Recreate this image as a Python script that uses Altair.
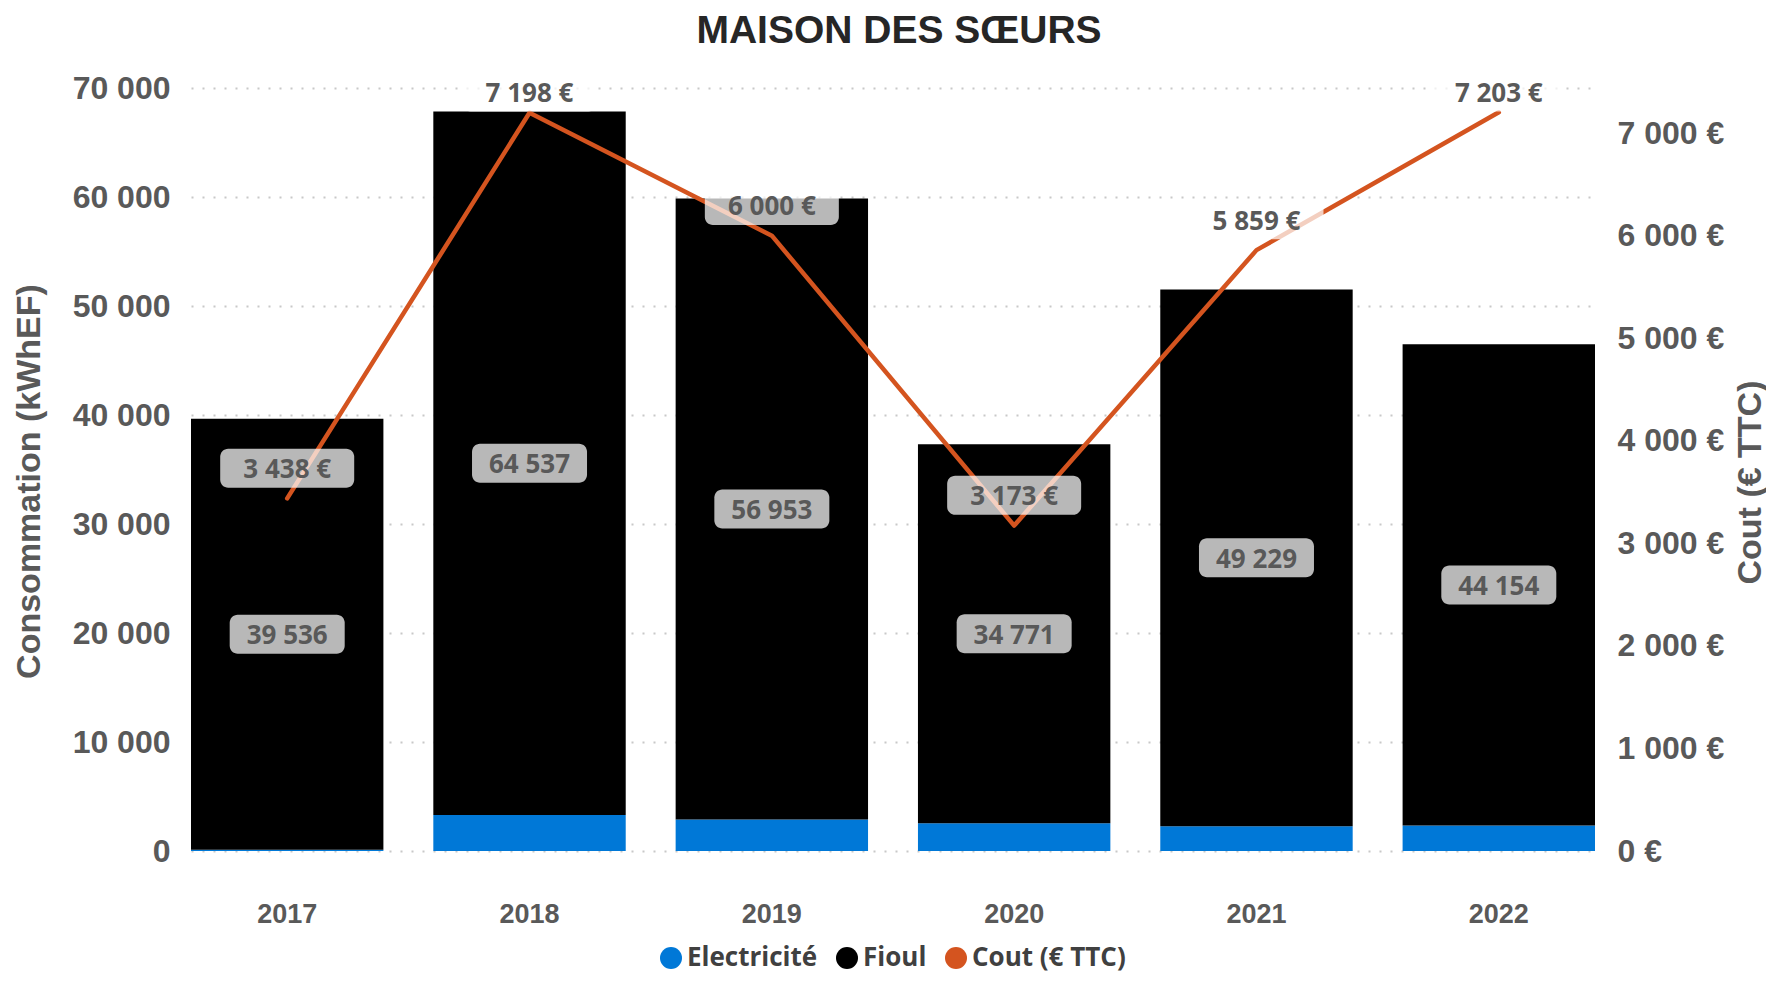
import altair as alt
import pandas as pd

# ---- data ----
years = ["2017", "2018", "2019", "2020", "2021", "2022"]
electricite = [120, 3300, 2900, 2550, 2280, 2330]
fioul = [39536, 64537, 56953, 34771, 49229, 44154]
cout = [3438, 7198, 6000, 3173, 5859, 7203]

series = ["Electricité", "Fioul", "Cout (€ TTC)"]
colors = ["#0078d7", "#000000", "#d4541f"]

left_ticks = [0, 10000, 20000, 30000, 40000, 50000, 60000, 70000]
right_ticks = [0, 1000, 2000, 3000, 4000, 5000, 6000, 7000]

wide = pd.DataFrame({"Année": years, "elec": electricite, "fioul": fioul, "cout": cout})
long = pd.DataFrame({
    "Année": years * 2,
    "Énergie": ["Electricité"] * len(years) + ["Fioul"] * len(years),
    "kWh": electricite + fioul,
    "ordre": [0] * len(years) + [1] * len(years),
})

LABEL_FONT = "Liberation Sans"
TXT_FONT = "Open Sans"
GREY = "#595959"

x_axis = alt.Axis(title=None, labelFont=LABEL_FONT, labelFontSize=27, labelFontWeight="bold",
                  labelColor=GREY, labelAngle=0, labelPadding=50,
                  ticks=False, domain=False, grid=False)
x_scale = alt.Scale(paddingInner=0.206, paddingOuter=0)
x_enc = alt.X("Année:N", sort=years, scale=x_scale, axis=x_axis)

y_left_scale = alt.Scale(domain=[0, 70000], nice=False, zero=True)
y_right_scale = alt.Scale(domain=[0, 7440], nice=False, zero=True)

left_axis = alt.Axis(values=left_ticks,
                     labelExpr="replace(format(datum.value, ','), ',', ' ')",
                     labelFont=LABEL_FONT, labelFontSize=32, labelFontWeight="bold", labelColor=GREY,
                     labelPadding=21, ticks=False, domain=False,
                     grid=True, gridColor="#c8c8c8", gridDash=[2, 9], gridWidth=2,
                     title="Consommation (kWhEF)", titleFont=LABEL_FONT, titleFontSize=34,
                     titleFontWeight="bold", titleColor=GREY, titleAngle=270,
                     titleX=-162, titleY=393, titleAlign="center", titleBaseline="middle")

right_axis = alt.Axis(orient="right", values=right_ticks,
                      labelExpr="replace(format(datum.value, ','), ',', ' ') + ' €'",
                      labelFont=LABEL_FONT, labelFontSize=32, labelFontWeight="bold", labelColor=GREY,
                      labelPadding=22, ticks=False, domain=False, grid=False,
                      title="Cout (€ TTC)", titleFont=LABEL_FONT, titleFontSize=34,
                      titleFontWeight="bold", titleColor=GREY, titleAngle=270,
                      titleX=155, titleY=394, titleAlign="center", titleBaseline="middle")

legend = alt.Legend(orient="none", legendX=467, legendY=857, direction="horizontal", columns=3,
                    title=None, symbolType="circle", symbolSize=484, symbolStrokeWidth=0,
                    symbolOpacity=1, labelFont=TXT_FONT, labelFontSize=26, labelFontWeight="bold",
                    labelColor="#404040", labelOffset=3, columnPadding=16, labelLimit=400)

bars = alt.Chart(long).mark_bar().encode(
    x=x_enc,
    y=alt.Y("kWh:Q", stack="zero", scale=y_left_scale, axis=left_axis),
    color=alt.Color("Énergie:N", scale=alt.Scale(domain=series, range=colors), legend=legend),
    order=alt.Order("ordre:Q"),
)

fbase = alt.Chart(wide).transform_calculate(
    mid="datum.elec + datum.fioul / 2",
    b0="datum.elec + datum.fioul / 2 - 1790",
    b1="datum.elec + datum.fioul / 2 + 1790",
    lab="replace(format(datum.fioul, ','), ',', ' ')",
)
fbox = fbase.mark_bar(width=115, cornerRadius=8, color="white", opacity=0.72).encode(
    x=x_enc, y=alt.Y("b0:Q", scale=y_left_scale, axis=None), y2="b1:Q")
ftext = fbase.mark_text(font=TXT_FONT, fontSize=26, fontWeight="bold", color=GREY,
                        baseline="middle", align="center", dy=2).encode(
    x=x_enc, y=alt.Y("mid:Q", scale=y_left_scale, axis=None), text="lab:N")

line = alt.Chart(wide).mark_line(color="#d4541f", strokeWidth=4.5, strokeCap="round",
                                 strokeJoin="round").encode(
    x=x_enc, y=alt.Y("cout:Q", scale=y_right_scale, axis=right_axis))

cbase = alt.Chart(wide).transform_calculate(
    ly="min(datum.cout + 295, 7400)",
).transform_calculate(
    b0="datum.ly - 190",
    b1="datum.ly + 190",
    lab="replace(format(datum.cout, ','), ',', ' ') + ' €'",
)
cbox = cbase.mark_bar(width=134, cornerRadius=8, color="white", opacity=0.72).encode(
    x=x_enc, y=alt.Y("b0:Q", scale=y_right_scale, axis=None), y2="b1:Q")
ctext = cbase.mark_text(font=TXT_FONT, fontSize=26, fontWeight="bold", color=GREY,
                        baseline="middle", align="center", dy=2).encode(
    x=x_enc, y=alt.Y("ly:Q", scale=y_right_scale, axis=None), text="lab:N")

chart = alt.layer(bars, fbox, ftext, line, cbox, ctext).resolve_scale(y="independent").properties(
    width=1404, height=763,
    background="white",
    title=alt.TitleParams("MAISON DES SŒURS", anchor="middle", frame="group", dx=6,
                          font=LABEL_FONT, fontSize=39, fontWeight="bold", color="#262626",
                          offset=21),
    autosize=alt.AutoSizeParams(type="none"),
    padding={"left": 183, "top": 80, "right": 171, "bottom": 129},
).configure_view(stroke=None)

chart.save("out.html", embed_options={"renderer": "svg", "actions": False})
